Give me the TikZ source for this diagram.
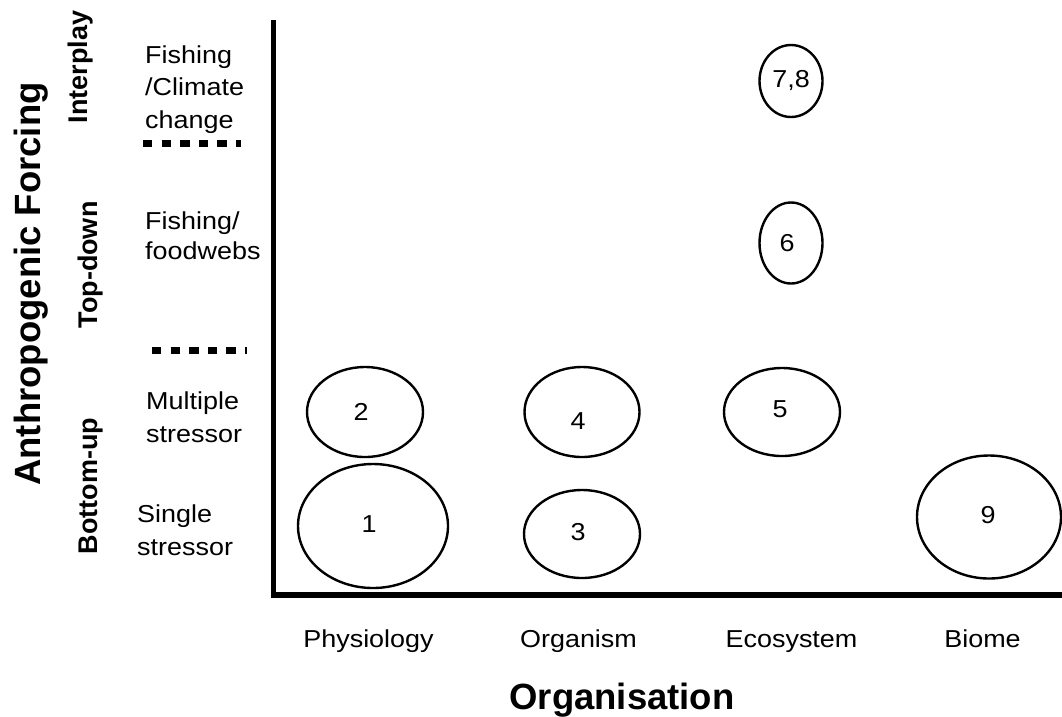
\documentclass[tikz,border=0pt]{standalone}
\usepackage{fontspec}
\setmainfont{Liberation Sans}
\newfontfamily\plainfont[FakeStretch=1.1]{Liberation Sans}
\usetikzlibrary{shapes.geometric}

\begin{document}
\begin{tikzpicture}[x=1pt,y=-1pt,
  blob/.style={ellipse, draw, line width=2.4pt, inner sep=0pt},
  lbl/.style={font=\plainfont\fontsize{24.5}{32.5}\selectfont, align=left, inner sep=0pt},
  num/.style={font=\plainfont\fontsize{24.5}{28}\selectfont, inner sep=0pt},
  vlbl/.style={font=\bfseries\fontsize{27}{30}\selectfont, rotate=90, anchor=base, inner sep=0pt},
  heading/.style={font=\bfseries\fontsize{36.5}{40}\selectfont, anchor=base, inner sep=0pt},
  sep/.style={line width=7pt, dash pattern=on 9.3pt off 9.3pt},
  axis/.style={line width=5.5pt, line join=miter}]
\useasboundingbox (0,0) rectangle (1062,716);

% axes
\coordinate (ytop) at (273.5,20);
\coordinate (origin) at (273.5,595);
\coordinate (xend) at (1062,595);
\draw[axis] (ytop) -- (origin) -- (xend);

% separators between forcing classes
\coordinate (s1a) at (143,143);
\coordinate (s1b) at (241,143);
\coordinate (s2a) at (152,350);
\coordinate (s2b) at (247,350);
\draw[sep] (s1a) -- (s1b);
\draw[sep] (s2a) -- (s2b);

% axis titles
\node[heading, rotate=90] (ytitle) at (40,284) {Anthropogenic Forcing};
\node[heading] (xtitle) at (622,709) {Organisation};

% forcing classes
\node[vlbl] (interplay) at (87,67) {Interplay};
\node[vlbl] (topdown) at (97,265) {Top-down};
\node[vlbl] (bottomup) at (97,486) {Bottom-up};

% forcing types (anchored on the baseline of the last line)
\node[lbl, anchor=base west] (fcc) at (145,128) {Fishing\\/Climate\\change};
\node[lbl, anchor=base west] (ffw) at (145,259) {Fishing/\\[-2.5pt]foodwebs};
\node[lbl, anchor=base west] (mult) at (146,442) {Multiple\\stressor};
\node[lbl, anchor=base west] (sing) at (137,555) {Single\\stressor};

% organisation levels
\node[lbl, anchor=base] (phys) at (368.5,647) {Physiology};
\node[lbl, anchor=base] (orgm) at (578.5,647) {Organism};
\node[lbl, anchor=base] (ecos) at (791.5,647) {Ecosystem};
\node[lbl, anchor=base] (biom) at (982.5,647) {Biome};

% studies
\node[blob, minimum width=150pt, minimum height=124pt] (e1) at (373,526) {};
\node[blob, minimum width=116pt, minimum height=90pt] (e2) at (365,412) {};
\node[blob, minimum width=116pt, minimum height=88pt] (e3) at (582,534) {};
\node[blob, minimum width=115pt, minimum height=90pt] (e4) at (582,412) {};
\node[blob, minimum width=116pt, minimum height=88pt] (e5) at (782,412) {};
\node[blob, minimum width=63pt, minimum height=81pt] (e6) at (791,243) {};
\node[blob, minimum width=63pt, minimum height=72pt] (e78) at (791,81) {};
\node[blob, minimum width=144pt, minimum height=123pt] (e9) at (989,517) {};

\node[num] (n1) at ([xshift=-4pt,yshift=2pt]e1.center) {1};
\node[num] (n2) at ([xshift=-4pt]e2.center) {2};
\node[num] (n3) at ([xshift=-4pt,yshift=2pt]e3.center) {3};
\node[num] (n4) at ([xshift=-4pt,yshift=-9pt]e4.center) {4};
\node[num] (n5) at ([xshift=-2pt,yshift=3pt]e5.center) {5};
\node[num] (n6) at ([xshift=-4pt]e6.center) {6};
\node[num] (n78) at (e78.center) {7,8};
\node[num] (n9) at ([xshift=-1pt,yshift=2pt]e9.center) {9};
\end{tikzpicture}
\end{document}
